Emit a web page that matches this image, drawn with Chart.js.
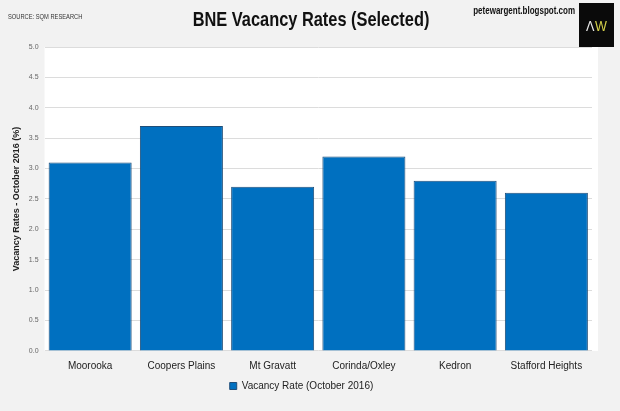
<!DOCTYPE html>
<html>
<head>
<meta charset="utf-8">
<script src="https://cdn.jsdelivr.net/npm/chart.js@4"></script>
<style>
  html, body { margin: 0; padding: 0; background: #f2f2f2; }
  #wrap { width: 620px; height: 411px; }
</style>
</head>
<body>
<div id="wrap"><canvas id="chart" width="620" height="411"></canvas></div>
<script>
const suburbs = ['Moorooka', 'Coopers Plains', 'Mt Gravatt', 'Corinda/Oxley', 'Kedron', 'Stafford Heights'];
const vacancyRates = [3.1, 3.7, 2.7, 3.2, 2.8, 2.6];
const yTicks = [0, 0.5, 1, 1.5, 2, 2.5, 3, 3.5, 4, 4.5, 5];

const sans = "'Liberation Sans', Arial, sans-serif";

// draw text squeezed horizontally, to mimic a narrow face
function narrowText(ctx, text, x, y, sx, align) {
  ctx.save();
  ctx.translate(x, y);
  ctx.scale(sx, 1);
  ctx.textAlign = align;
  ctx.fillText(text, 0, 0);
  ctx.restore();
}

// white plot background + header texts and logo
const decor = {
  id: 'decor',
  beforeDraw(chart) {
    const { ctx, chartArea: a } = chart;
    ctx.save();
    ctx.fillStyle = '#f2f2f2';
    ctx.fillRect(0, 0, chart.width, chart.height);
    ctx.fillStyle = '#ffffff';
    ctx.fillRect(a.left, a.top, a.right - a.left + 6, a.bottom - a.top);
    ctx.restore();
  },
  afterDraw(chart) {
    const ctx = chart.ctx;
    ctx.save();
    ctx.textBaseline = 'middle';
    ctx.fillStyle = '#333';
    ctx.font = '7px ' + sans;
    narrowText(ctx, 'SOURCE: SQM RESEARCH', 8, 17, 0.82, 'left');

    ctx.fillStyle = '#111';
    ctx.font = 'bold 21px ' + sans;
    narrowText(ctx, 'BNE Vacancy Rates (Selected)', 311, 20, 0.78, 'center');

    ctx.font = 'bold 10px ' + sans;
    narrowText(ctx, 'petewargent.blogspot.com', 575, 11, 0.8, 'right');

    ctx.fillStyle = '#0a0a0a';
    ctx.fillRect(579, 3, 35, 44);
    ctx.font = '14px ' + sans;
    ctx.fillStyle = '#e8e8e8';
    narrowText(ctx, '\u039B', 586, 27, 0.9, 'left');
    ctx.fillStyle = '#d4d04a';
    narrowText(ctx, 'W', 595, 27, 0.9, 'left');
    ctx.restore();
  }
};

new Chart(document.getElementById('chart'), {
  type: 'bar',
  data: {
    labels: suburbs,
    datasets: [{
      label: 'Vacancy Rate (October 2016)',
      data: vacancyRates,
      backgroundColor: '#0070c0',
      borderColor: '#1f4e79',
      borderWidth: 1,
      borderSkipped: 'bottom',
      barPercentage: 0.91,
      categoryPercentage: 1
    }]
  },
  options: {
    responsive: false,
    animation: false,
    layout: { padding: { top: 47, right: 28, left: 11, bottom: 10 } },
    plugins: {
      legend: {
        position: 'bottom',
        labels: {
          boxWidth: 7,
          boxHeight: 7,
          padding: 0,
          color: '#222',
          font: { size: 10, family: sans }
        }
      },
      tooltip: { enabled: false }
    },
    scales: {
      x: {
        grid: { display: false, drawTicks: false },
        border: { display: false },
        // tiny line height keeps the legend close to the category labels
        ticks: { color: '#222', font: { size: 10, family: sans, lineHeight: 0.01 }, padding: 15 }
      },
      y: {
        min: 0,
        max: 5,
        afterBuildTicks(axis) { axis.ticks = yTicks.map(v => ({ value: v })); },
        grid: { color: '#dcdcdc', drawTicks: false },
        border: { display: false },
        ticks: {
          color: '#666',
          padding: 6,
          font: { size: 7, family: sans },
          callback: v => v.toFixed(1)
        },
        title: {
          display: true,
          text: 'Vacancy Rates - October 2016 (%)',
          color: '#222',
          font: { size: 9, weight: 'bold', family: sans },
          padding: { top: 0, bottom: 1 }
        }
      }
    }
  },
  plugins: [decor]
});
</script>
</body>
</html>
